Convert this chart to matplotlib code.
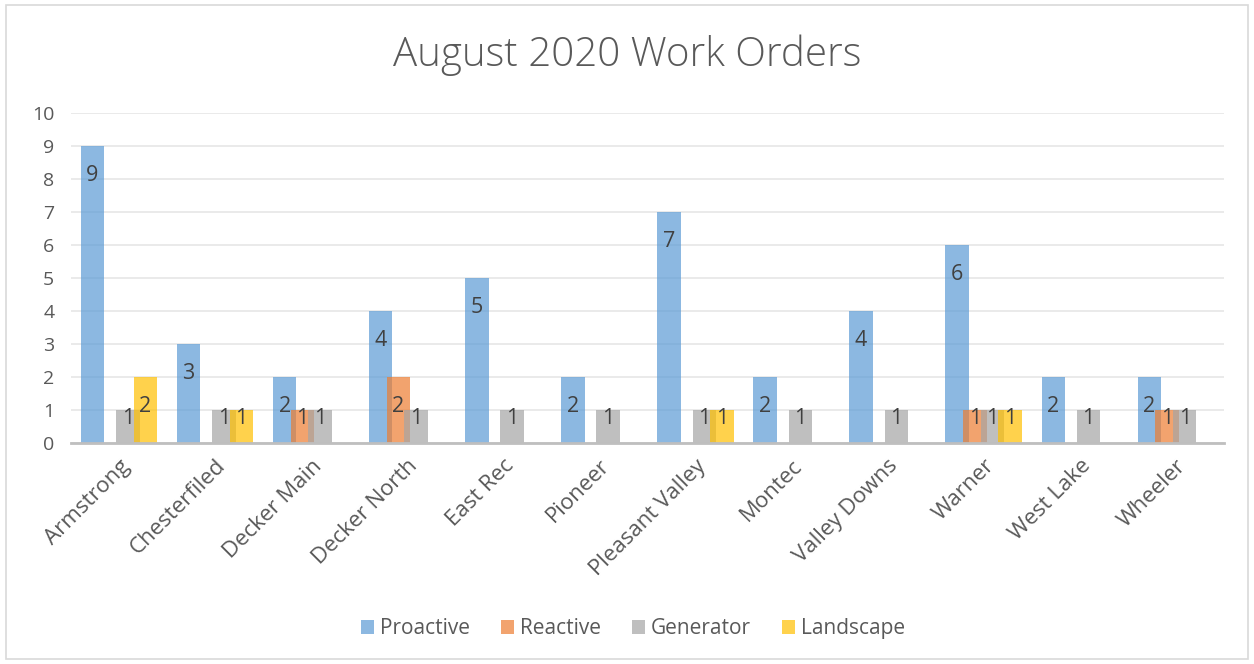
import matplotlib.pyplot as plt
import numpy as np
from matplotlib.patches import Rectangle

plt.rcParams['font.family'] = ['Open Sans', 'DejaVu Sans']

# data
sites = ['Armstrong', 'Chesterfiled', 'Decker Main', 'Decker North', 'East Rec',
         'Pioneer', 'Pleasant Valley', 'Montec', 'Valley Downs', 'Warner',
         'West Lake', 'Wheeler']
proactive = [9, 3, 2, 4, 5, 2, 7, 2, 4, 6, 2, 2]
reactive = [0, 0, 1, 2, 0, 0, 0, 0, 0, 1, 0, 1]
generator = [1, 1, 1, 1, 1, 1, 1, 1, 1, 1, 1, 1]
landscape = [2, 1, 0, 0, 0, 0, 1, 0, 0, 1, 0, 0]
series_names = ['Proactive', 'Reactive', 'Generator', 'Landscape']
yticks = [0, 1, 2, 3, 4, 5, 6, 7, 8, 9, 10]

colors = ['#5B9BD5', '#ED7D31', '#A5A5A5', '#FFC000']
all_series = [proactive, reactive, generator, landscape]

fig = plt.figure(figsize=(12.54, 6.64), dpi=100)
ax = fig.add_axes([0.0566, 0.3328, 0.9194, 0.497])

x = np.arange(len(sites))
width = 0.245
step = 0.184
for i, (vals, col, name) in enumerate(zip(all_series, colors, series_names)):
    off = (i - 1.5) * step
    ax.bar(x + off, vals, width, color=col, alpha=0.7, label=name, zorder=2)
    for xi, v in zip(x, vals):
        if v > 0:
            ax.text(xi + off, max(v - 0.88, 0.75), str(v), ha='center', va='center',
                    fontsize=15.5, color='#404040', zorder=3)

ax.set_xlim(-0.5, len(sites) - 0.5)
ax.set_ylim(0, 10)
ax.set_yticks(yticks)
ax.set_xticks(x)
ax.set_xticklabels(sites, rotation=45, ha='right', rotation_mode='anchor')
ax.tick_params(axis='both', length=0, labelcolor='#595959')
ax.tick_params(axis='y', pad=12, labelsize=14)
ax.tick_params(axis='x', pad=9, labelsize=16)
ax.grid(axis='y', color='#E6E6E6', linewidth=1.2, zorder=0)
for s in ['top', 'right', 'left']:
    ax.spines[s].set_visible(False)
ax.spines['bottom'].set_color('#BFBFBF')
ax.spines['bottom'].set_linewidth(2)
ax.spines['bottom'].set_zorder(4)

fig.text(0.5, 0.917, 'August 2020 Work Orders', ha='center', va='center',
         fontsize=29, color='#595959', fontweight='light')

leg = fig.legend(loc='center', bbox_to_anchor=(0.505, 0.053), ncol=4, frameon=False,
                 fontsize=15, handlelength=0.6, handleheight=0.6, handletextpad=0.3,
                 columnspacing=1.5)
for t in leg.get_texts():
    t.set_color('#595959')

fig.patches.append(Rectangle((0.005, 0.008), 0.99, 0.985, transform=fig.transFigure,
                             fill=False, edgecolor='#D9D9D9', linewidth=1.2))

fig.savefig('out.png', dpi=100)
